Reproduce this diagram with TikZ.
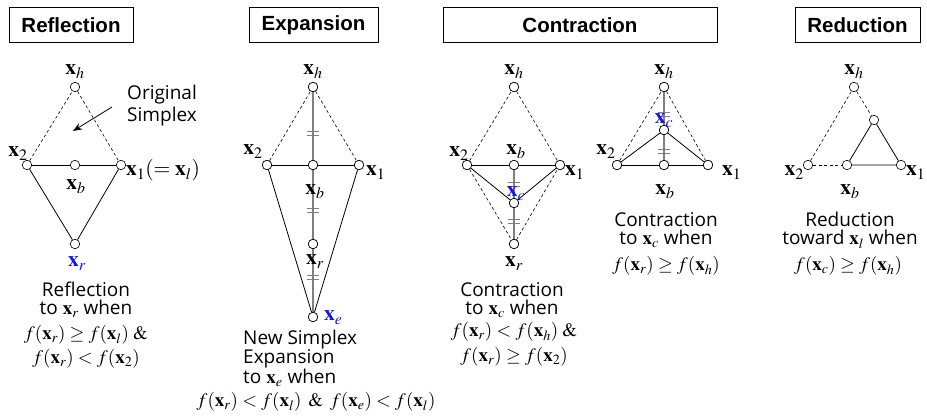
\documentclass[tikz,border=0pt]{standalone}
\usepackage{mathptmx}
\usepackage{fontspec}
\setmainfont{Open Sans}
\newfontfamily\titlefont{Liberation Sans}
\usetikzlibrary{calc,arrows.meta}
\definecolor{lblue}{RGB}{20,20,240}
\newcommand\vx[1]{\mathbf{x}_{#1}}
\newcommand\mand{\;\mathbin{\&}\;}
\begin{document}
\begin{tikzpicture}[x=1pt,y=-1pt,
  pt/.style={circle,draw,fill=white,inner sep=0,minimum size=9.5,line width=0.6},
  dsh/.style={dash pattern=on 3 off 2.5,line width=0.6},
  sld/.style={line width=0.8},
  gln/.style={draw=gray,line width=1.2},
  tk/.style={draw=gray,line width=0.9},
  lab/.style={font=\fontsize{21.5}{21.5}\selectfont,inner sep=0,anchor=base},
  txt/.style={font=\fontsize{19}{18}\selectfont,inner sep=0,anchor=base,align=center},
  fml/.style={font=\fontsize{19}{19}\selectfont,inner sep=0,anchor=base},
  ttl/.style={draw,line width=1,font=\titlefont\bfseries\fontsize{20.5}{20.5}\selectfont,minimum height=35,inner sep=0},
  blue/.style={text=lblue}]
\useasboundingbox (0,0) rectangle (927,419);
\newcommand\ticks[3]{\draw[tk] ($(#1)!#3!(#2)$) ++(-6,-2) -- ++(12,0) ++(-12,4) -- ++(12,0);}

% ---------------- Reflection ----------------
\node[ttl,minimum width=124] (T1) at (71,25.5) {Reflection};
\node[pt] (Rh) at (75,87) {};
\node[pt] (R2) at (27,165) {};
\node[pt] (Rb) at (75,165) {};
\node[pt] (R1) at (121,165) {};
\node[pt] (Rr) at (75,244) {};
\draw[dsh] (R2) -- (Rh) -- (R1);
\draw[sld] (R2) -- (Rb) -- (R1);
\draw[sld] (R2) -- (Rr) -- (R1);
\node[lab] (Rhl) at (75,75) {$\vx{h}$};
\node[lab] (R2l) at (18,157) {$\vx{2}$};
\node[lab] (Rbl) at (76,190) {$\vx{b}$};
\node[lab,anchor=base west] (R1l) at (126,176) {$\vx{1}(=\vx{l})$};
\node[lab,blue] (Rrl) at (77,267) {$\vx{r}$};
\node[txt,align=left,anchor=base west,font=\fontsize{19}{22}\selectfont] (Ro) at (127,122) {Original\\Simplex};
\coordinate (RaS) at (112,107);
\coordinate (RaE) at (73,131);
\draw[line width=0.8,-{Stealth[length=9,width=7]}] (RaS) -- (RaE);
\node[txt] (Rt) at (86,315) {Reflection\\to $\vx{r}$ when};
\node[fml] (Rt3) at (86,340) {$f(\vx{r})\geq f(\vx{l})\;\&$};
\node[fml] (Rt4) at (86,364) {$f(\vx{r})<f(\vx{2})$};

% ---------------- Expansion ----------------
\node[ttl,minimum width=129] (T2) at (313.5,25.5) {Expansion};
\node[pt] (Eh) at (313,87) {};
\node[pt] (E2) at (267,165) {};
\node[pt] (Eb) at (313,165) {};
\node[pt] (E1) at (359,165) {};
\node[pt] (Er) at (313,244) {};
\node[pt] (Ee) at (313,317) {};
\draw[gln] (Eh) -- (Eb) -- (Er) -- (Ee);
\ticks{Eh}{Eb}{0.59}
\ticks{Eb}{Er}{0.58}
\ticks{Er}{Ee}{0.46}
\draw[dsh] (E2) -- (Eh) -- (E1);
\draw[sld] (E2) -- (Eb) -- (E1);
\draw[sld] (E2) -- (Ee) -- (E1);
\node[pt] at (Eh) {};\node[pt] at (E2) {};\node[pt] at (Eb) {};
\node[pt] at (E1) {};\node[pt] at (Er) {};\node[pt] at (Ee) {};
\node[lab] (Ehl) at (313,75) {$\vx{h}$};
\node[lab] (E2l) at (253,155) {$\vx{2}$};
\node[lab] (Ebl) at (315,195) {$\vx{b}$};
\node[lab,anchor=base west] (E1l) at (366,176) {$\vx{1}$};
\node[lab] (Erl) at (315,265) {$\vx{r}$};
\node[lab,blue,anchor=base west] (Eel) at (324,321) {$\vx{e}$};
\node[txt,align=left,anchor=base west,font=\fontsize{19}{17}\selectfont] (Et) at (243,384) {New Simplex\\Expansion\\to $\vx{e}$ when};
\node[fml] (Et4) at (316,407) {$f(\vx{r})<f(\vx{l})\mand f(\vx{e})<f(\vx{l})$};

% ---------------- Contraction ----------------
\node[ttl,minimum width=274] (T3) at (580,25.5) {Contraction};
% left
\node[pt] (Ch) at (514,87) {};
\node[pt] (C2) at (467,165) {};
\node[pt] (Cb) at (514,165) {};
\node[pt] (C1) at (560,165) {};
\node[pt] (Cc) at (514,203) {};
\node[pt] (Cr) at (514,244) {};
\draw[gln] (Cb) -- (Cc) -- (Cr);
\ticks{Cb}{Cc}{0.5}
\ticks{Cc}{Cr}{0.45}
\draw[dsh] (C2) -- (Ch) -- (C1);
\draw[dsh] (C2) -- (Cr) -- (C1);
\draw[sld] (C2) -- (Cb) -- (C1);
\draw[sld] (C2) -- (Cc) -- (C1);
\node[pt] at (Ch) {};\node[pt] at (C2) {};\node[pt] at (Cb) {};
\node[pt] at (C1) {};\node[pt] at (Cc) {};\node[pt] at (Cr) {};
\node[lab] (Chl) at (514,75) {$\vx{h}$};
\node[lab] (C2l) at (459,157) {$\vx{2}$};
\node[lab] (Cbl) at (516,155) {$\vx{b}$};
\node[lab,anchor=base west] (C1l) at (565,176) {$\vx{1}$};
\node[lab,blue] (Ccl) at (516,197) {$\vx{c}$};
\node[lab] (Crl) at (514,267) {$\vx{r}$};
\node[txt] (Ct) at (512,315) {Contraction\\to $\vx{c}$ when};
\node[fml] (Ct3) at (514,337) {$f(\vx{r})<f(\vx{h})\;\&$};
\node[fml] (Ct4) at (514,362) {$f(\vx{r})\geq f(\vx{2})$};
% right
\node[pt] (Dh) at (664,87) {};
\node[pt] (D2) at (617,165) {};
\node[pt] (Db) at (664,165) {};
\node[pt] (D1) at (708,165) {};
\node[pt] (Dc) at (664,130) {};
\draw[gln] (Dh) -- (Dc) -- (Db);
\ticks{Dh}{Dc}{0.65}
\ticks{Dc}{Db}{0.6}
\draw[dsh] (D2) -- (Dh) -- (D1);
\draw[sld] (D2) -- (Db) -- (D1);
\draw[sld] (D2) -- (Dc) -- (D1);
\node[pt] at (Dh) {};\node[pt] at (D2) {};\node[pt] at (Db) {};
\node[pt] at (D1) {};\node[pt] at (Dc) {};
\node[lab] (Dhl) at (664,75) {$\vx{h}$};
\node[lab,blue] (Dcl) at (664,124) {$\vx{c}$};
\node[lab] (D2l) at (606,155) {$\vx{2}$};
\node[lab,anchor=base west] (D1l) at (722,176) {$\vx{1}$};
\node[lab] (Dbl) at (665,195) {$\vx{b}$};
\node[txt] (Dt) at (666,245) {Contraction\\to $\vx{c}$ when};
\node[fml] (Dt3) at (666,271) {$f(\vx{r})\geq f(\vx{h})$};

% ---------------- Reduction ----------------
\node[ttl,minimum width=125] (T4) at (857.5,25.5) {Reduction};
\node[pt] (Uh) at (854,87) {};
\node[pt] (U2) at (808,165) {};
\node[pt] (Ub) at (847,165) {};
\node[pt] (U1) at (901,165) {};
\node[pt] (Um) at (874,120) {};
\draw[dsh] (U2) -- (Uh) -- (Um);
\draw[dsh] (U2) -- (Ub);
\draw[sld] (Ub) -- (U1) -- (Um) -- (Ub);
\node[lab,anchor=base east] (U2l) at (804,176) {$\vx{2}$};
\node[lab,anchor=base west] (U1l) at (906,176) {$\vx{1}$};
\node[lab] (Uhl) at (854,75) {$\vx{h}$};
\node[lab] (Ubl) at (850,195) {$\vx{b}$};
\node[txt] (Ut) at (850,245) {Reduction\\toward $\vx{l}$ when};
\node[fml] (Ut3) at (848,271) {$f(\vx{c})\geq f(\vx{h})$};
\end{tikzpicture}
\end{document}
